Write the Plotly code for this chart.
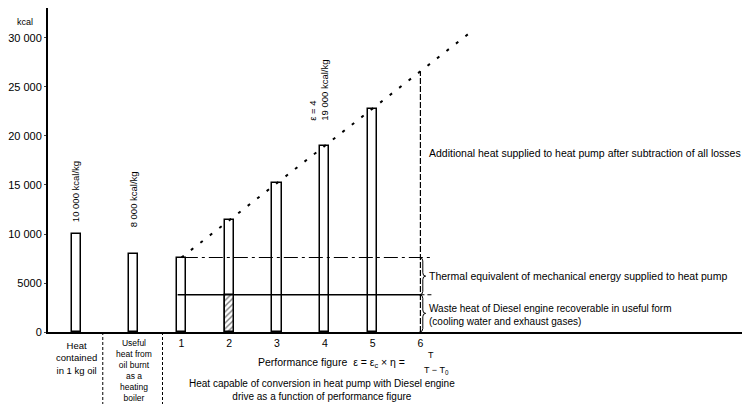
import plotly.graph_objects as go

# ---- data ----
perf_figures = [1, 2, 3, 4, 5]
heat_pump_kcal = [7600, 11400, 15200, 19000, 22800]
oil_pos = [-1.2, 0.0]
oil_kcal = [10000, 8000]
waste_heat_kcal = 3800          # waste heat of Diesel engine
mech_equiv_kcal = 7600          # thermal equivalent of mechanical energy
eps6_kcal = 26600               # dashed column at performance figure 6
diag_x = [1, 7]
diag_y = [7600, 30400]
hatch_x = [2]
hatch_y = [3800]
ytick_vals = [0, 5000, 10000, 15000, 20000, 25000, 30000]
ytick_text = ["0", "5000", "10 000", "15 000", "20 000", "25 000", "30 000"]
xtick_vals = [1, 2, 3, 4, 5, 6]
xtick_text = ["1", "2", "3", "4", "5", "6"]

FONT = "Liberation Sans, Arial, sans-serif"
BW = 0.19

fig = go.Figure()

fig.add_trace(go.Bar(x=oil_pos, y=oil_kcal, width=BW,
                     marker=dict(color="white", line=dict(color="black", width=1.5)),
                     showlegend=False))
fig.add_trace(go.Bar(x=perf_figures, y=heat_pump_kcal, width=BW,
                     marker=dict(color="white", line=dict(color="black", width=1.5)),
                     showlegend=False))
fig.add_trace(go.Bar(x=hatch_x, y=hatch_y, width=BW,
                     marker=dict(color="white", line=dict(color="black", width=1.5),
                                 pattern=dict(shape="/", fgcolor="black", size=4, solidity=0.35)),
                     showlegend=False))

fig.add_trace(go.Scatter(x=diag_x, y=diag_y, mode="lines",
                         line=dict(color="black", width=2, dash="3px,9px"),
                         showlegend=False, hoverinfo="skip"))
fig.add_trace(go.Scatter(x=[0.92, 6.0], y=[waste_heat_kcal, waste_heat_kcal], mode="lines",
                         line=dict(color="black", width=1.5), showlegend=False, hoverinfo="skip"))
fig.add_trace(go.Scatter(x=[6.0, 6.25], y=[waste_heat_kcal, waste_heat_kcal], mode="lines",
                         line=dict(color="black", width=1, dash="4px,3px"), showlegend=False, hoverinfo="skip"))
fig.add_trace(go.Scatter(x=[1.05, 6.25], y=[mech_equiv_kcal, mech_equiv_kcal], mode="lines",
                         line=dict(color="black", width=1.2, dash="14px,4px,3px,4px"),
                         showlegend=False, hoverinfo="skip"))
fig.add_trace(go.Scatter(x=[6, 6], y=[0, eps6_kcal], mode="lines",
                         line=dict(color="black", width=1.2, dash="6px,2px"),
                         showlegend=False, hoverinfo="skip"))

shapes = []
def brace(y0, y1):
    m = (y0 + y1) / 2
    return dict(type="path", xref="x", yref="y",
                path=(f"M 5.98,{y1} Q 6.05,{y1} 6.05,{y1-350} L 6.05,{m+350} "
                      f"Q 6.05,{m} 6.11,{m} Q 6.05,{m} 6.05,{m-350} L 6.05,{y0+350} "
                      f"Q 6.05,{y0} 5.98,{y0}"),
                line=dict(color="black", width=1))
shapes.append(brace(0, waste_heat_kcal))
shapes.append(brace(waste_heat_kcal, mech_equiv_kcal))
for xs in [-0.646, 0.604]:
    shapes.append(dict(type="line", xref="x", yref="paper", x0=xs, x1=xs, y0=0, y1=-0.26,
                       line=dict(color="black", width=1, dash="3px,2px")))

ann = []
def A(text, x, y, xref="x", yref="y", size=9, **kw):
    d = dict(text=text, x=x, y=y, xref=xref, yref=yref, showarrow=False,
             font=dict(family=FONT, size=size, color="black"))
    if yref == "paper":
        d["yanchor"] = "middle"
    d.update(kw)
    ann.append(d)

A("kcal", -0.033, 31600, xref="paper", size=9, xanchor="center")
A("10 000 kcal/kg", -1.2, 14300, textangle=-90, size=9.5)
A("8 000 kcal/kg", 0.0, 13500, textangle=-90, size=9.5)
A("ε = 4<br>19 000 kcal/kg", 3.875, 24700, textangle=-90, size=9.5, align="left")
A("Additional heat supplied to heat pump after subtraction of all losses", 6.13, 18270,
  xanchor="left", size=10.5)
A("Thermal equivalent of mechanical energy supplied to heat pump", 6.13, 5750,
  xanchor="left", size=10.5)
A("Waste heat of Diesel engine recoverable in useful form<br>(cooling water and exhaust gases)",
  6.13, 1750, xanchor="left", align="left", size=10)
A("Heat<br>contained<br>in 1 kg oil", -1.2, -0.018, yref="paper", size=9.5, yanchor="top")
A("Useful<br>heat from<br>oil burnt<br>as a<br>heating<br>boiler", 0.0, -0.012, yref="paper",
  size=8.5, yanchor="top")
A("Performance figure  ε = ε<sub>c</sub> × η =", 4.15, -0.096, yref="paper", size=10.5)
A("T", 6.23, -0.071, yref="paper", size=9)
A("T − T<sub>0</sub>", 6.33, -0.12, yref="paper", size=9)
A("Heat capable of conversion in heat pump with Diesel engine<br>drive as a function of performance figure",
  3.95, -0.179, yref="paper", size=10)

fig.update_layout(
    width=750, height=404,
    margin=dict(l=37, r=8, t=0, b=80),
    paper_bgcolor="white", plot_bgcolor="white",
    barmode="overlay", bargap=0,
    font=dict(family=FONT, color="black"),
    shapes=shapes, annotations=ann,
    xaxis=dict(range=[-1.792, 12.896], showgrid=False, zeroline=False,
               showline=True, linecolor="black", linewidth=2,
               tickvals=xtick_vals, ticktext=xtick_text, ticks="",
               tickfont=dict(size=10.5, family=FONT)),
    yaxis=dict(range=[0, 33060], showgrid=False, zeroline=False,
               showline=True, linecolor="black", linewidth=2,
               tickvals=ytick_vals, ticktext=ytick_text, ticks="outside", ticklen=2,
               tickfont=dict(size=11, family=FONT)),
)

fig.write_html("out.html")
